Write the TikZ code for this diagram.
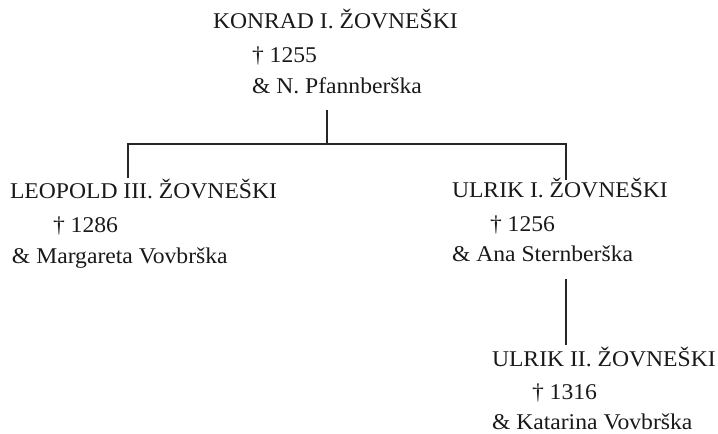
\documentclass[tikz,border=0pt]{standalone}
\usepackage{fontspec}
\setmainfont[FakeStretch=1.05]{Liberation Serif}
\begin{document}
\begin{tikzpicture}[x=1pt,y=-1pt,
  person/.style={anchor=base west,inner sep=0pt,outer sep=0pt,
    font=\fontsize{22.5}{26}\selectfont,black!90},
  link/.style={line width=1.7pt,black!85}]
\useasboundingbox (0,0) rectangle (718,434);

% Konrad I.
\node[person] (konrad)  at (213,28)  {KONRAD I. ŽOVNEŠKI};
\node[person] (konradd) at (252,62)  {† 1255};
\node[person] (konradm) at (252,93)  {\& N. Pfannberška};

% Leopold III.
\node[person] (leopold)  at (10,198)  {LEOPOLD III. ŽOVNEŠKI};
\node[person] (leopoldd) at (53,232) {† 1286};
\node[person] (leopoldm) at (12,263) {\& Margareta Vovbrška};

% Ulrik I.
\node[person] (ulrik)  at (452,197) {ULRIK I. ŽOVNEŠKI};
\node[person] (ulrikd) at (490,231) {† 1256};
\node[person] (ulrikm) at (452,261) {\& Ana Sternberška};

% Ulrik II.
\node[person] (ulrikb)  at (492,366) {ULRIK II. ŽOVNEŠKI};
\node[person] (ulrikbd) at (532,399) {† 1316};
\node[person] (ulrikbm) at (492,429) {\& Katarina Vovbrška};

% connector ends
\coordinate (kdown) at (327,110);
\coordinate (kbar)  at (327,144);
\coordinate (ltop)  at (128,178);
\coordinate (rtop)  at (566,180);
\coordinate (udown) at (566,279);
\coordinate (uend)  at (566,345);

\draw[link] (kdown) -- (kbar);
\draw[link] (ltop) |- (kbar) -| (rtop);
\draw[link,line width=1.3pt] (udown) -- (uend);
\end{tikzpicture}
\end{document}
